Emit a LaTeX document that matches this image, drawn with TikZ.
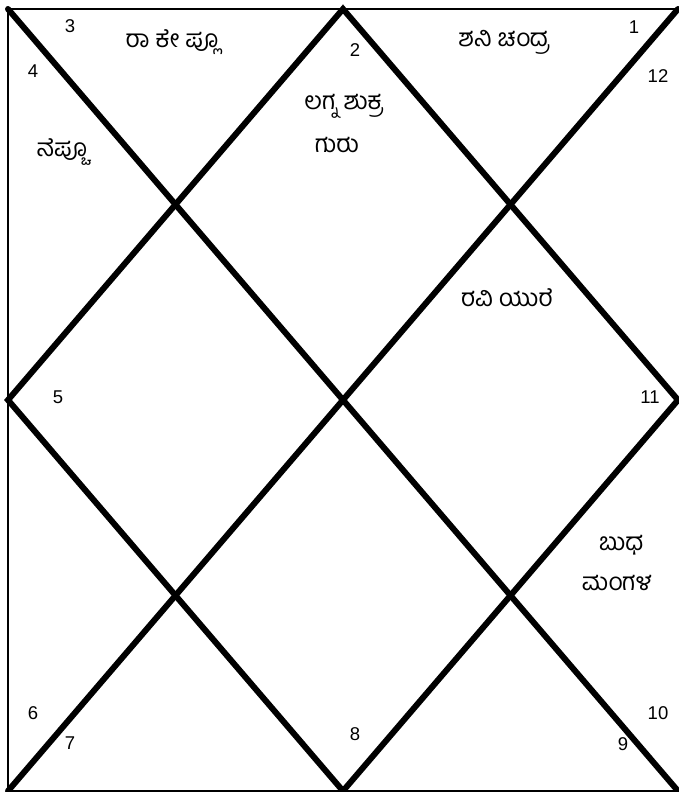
\documentclass[tikz,border=0pt]{standalone}
\usepackage{fontspec}
\setmainfont{Liberation Sans}
\newfontfamily\kn[Script=Kannada]{Hind Mysuru}
\begin{document}
\begin{tikzpicture}[x=1pt,y=-1pt,
  frame/.style={line width=2.5pt,line cap=rect},
  thick line/.style={line width=6pt,line cap=round,line join=miter},
  num/.style={font=\fontsize{18.5}{20}\selectfont,inner sep=0pt},
  planet/.style={font=\kn\fontsize{24.5}{28}\selectfont,inner sep=0pt}]
\useasboundingbox (0,0) rectangle (678,792);
\fill[white] (0,0) rectangle (678,792);
\coordinate (TL) at (8,9);
\coordinate (TR) at (678,9);
\coordinate (BL) at (8,791);
\coordinate (BR) at (678,791);
\coordinate (MT) at (343,9);
\coordinate (ML) at (8,400);
\coordinate (MR) at (678,400);
\coordinate (MB) at (343,791);
% frame
\draw[frame] (TR) -- (TL) -- (BL) -- (BR);
% diagonals
\draw[thick line] (TL) -- (BR);
\draw[thick line] (TR) -- (BL);
% diamond
\draw[thick line] (MT) -- (ML) -- (MB) -- (MR) -- cycle;
% house numbers
\node[num] (n1) at (634,27) {1};
\node[num] (n2) at (355,50) {2};
\node[num] (n3) at (70,26) {3};
\node[num] (n4) at (33,71) {4};
\node[num] (n5) at (58,397) {5};
\node[num] (n6) at (33,713) {6};
\node[num] (n7) at (70,743) {7};
\node[num] (n8) at (355,734) {8};
\node[num] (n9) at (623,744) {9};
\node[num] (n10) at (658,713) {10};
\node[num] (n11) at (650,397) {11};
\node[num] (n12) at (658,76) {12};
% planets
\node[planet] (p3) at (172,42) {ರಾ ಕೇ ಪ್ಲೂ};
\node[planet] (p4) at (62,152) {ನೆಪ್ಚೂ};
\node[planet] (p2a) at (344,106) {ಲಗ್ನ ಶುಕ್ರ};
\node[planet] (p2b) at (337,145) {ಗುರು};
\node[planet] (p1) at (504,42) {ಶನಿ ಚಂದ್ರ};
\node[planet] (p11) at (507,298) {ರವಿ ಯುರೆ};
\node[planet] (p10a) at (621,545) {ಬುಧ};
\node[planet] (p10b) at (617,583) {ಮಂಗಳ};
\end{tikzpicture}
\end{document}
